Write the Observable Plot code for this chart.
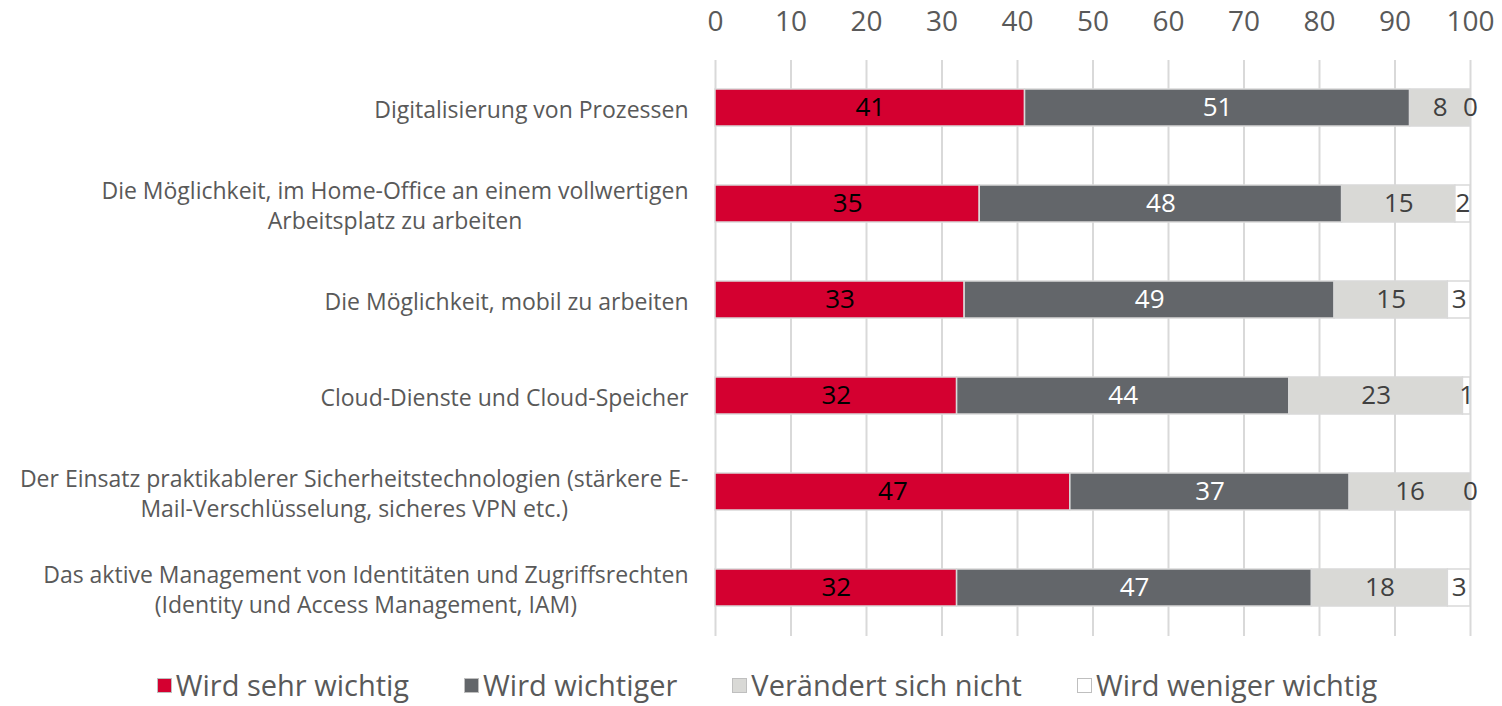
<!DOCTYPE html>
<html><head><meta charset="utf-8">
<script src="https://cdn.jsdelivr.net/npm/d3@7"></script>
<script src="https://cdn.jsdelivr.net/npm/@observablehq/plot@0.6"></script>
<style>
html,body{margin:0;background:#fff;font-family:"Open Sans",sans-serif;}
body{min-height:706px;}
#chart svg{display:block;}
#legend{display:flex;justify-content:center;gap:55px;font-size:29px;line-height:1.4;color:#595959;margin-top:5px;padding-left:32px;white-space:nowrap;}
#legend .item{display:flex;align-items:center;gap:4px;}
#legend .sw{width:15px;height:15px;border:1px solid #bfbfbf;box-sizing:border-box;}
</style></head><body><div id="chart"></div><div id="legend"></div>
<script>
const categories = [
  "Digitalisierung von Prozessen",
  "Die Möglichkeit, im Home-Office an einem vollwertigen\nArbeitsplatz zu arbeiten",
  "Die Möglichkeit, mobil zu arbeiten",
  "Cloud-Dienste und Cloud-Speicher",
  "Der Einsatz praktikablerer Sicherheitstechnologien (stärkere E-\nMail-Verschlüsselung, sicheres VPN etc.)",
  "Das aktive Management von Identitäten und Zugriffsrechten\n(Identity und Access Management, IAM)"
];
const series = ["Wird sehr wichtig", "Wird wichtiger", "Verändert sich nicht", "Wird weniger wichtig"];
const sehrWichtig = [41, 35, 33, 32, 47, 32];
const wichtiger = [51, 48, 49, 44, 37, 47];
const unveraendert = [8, 15, 15, 23, 16, 18];
const wenigerWichtig = [0, 2, 3, 1, 0, 3];
const xTicks = [0, 10, 20, 30, 40, 50, 60, 70, 80, 90, 100];
const colors = ["#d40030", "#63666a", "#d9d9d6", "#ffffff"];
const labelColors = ["#000000", "#ffffff", "#404040", "#404040"];

const seriesValues = [sehrWichtig, wichtiger, unveraendert, wenigerWichtig];
const rows = categories.flatMap((c, i) => series.map((s, j) => ({cat: c, series: s, idx: j, value: seriesValues[j][i]})));

const textMarks = series.map((s, j) => Plot.text(rows, Plot.stackX({
  x: "value", y: "cat", z: "series",
  text: d => d.idx === j ? String(d.value) : "",
  fill: labelColors[j], fontSize: 26
})));

const chart = Plot.plot({
  width: 1502, height: 660,
  marginLeft: 715, marginRight: 32, marginTop: 60, marginBottom: 24,
  style: {fontFamily: "'Open Sans', sans-serif", color: "#595959", background: "#fff"},
  x: {domain: [0, 100], label: null},
  y: {domain: categories, paddingInner: 0.61, paddingOuter: 0.305, label: null},
  color: {domain: series, range: colors},
  marks: [
    Plot.gridX(xTicks, {stroke: "#d9d9d9", strokeOpacity: 1, strokeWidth: 2}),
    Plot.barX(rows, {x: "value", y: "cat", fill: "series", stroke: "#d9d9d9", strokeWidth: 1.5}),
    ...textMarks,
    Plot.axisX(xTicks, {anchor: "top", tickSize: 0, tickPadding: 30, fontSize: 28, fill: "#595959", label: null}),
    Plot.axisY({tickSize: 0, tickPadding: 27, fontSize: 23, fill: "#595959", lineHeight: 1.3, label: null})
  ]
});
document.getElementById("chart").appendChild(chart);

// center multi-line category labels within their right-aligned block
chart.querySelectorAll('g[aria-label="y-axis tick label"] text').forEach(t => {
  if (t.querySelectorAll("tspan").length > 1) {
    const w = t.getBBox().width;
    t.setAttribute("text-anchor", "middle");
    t.setAttribute("transform", (t.getAttribute("transform") || "") + ` translate(${-w / 2},0)`);
  }
});

const legend = document.getElementById("legend");
series.forEach((s, j) => {
  const item = document.createElement("div");
  item.className = "item";
  const sw = document.createElement("span");
  sw.className = "sw";
  sw.style.background = colors[j];
  const label = document.createElement("span");
  label.textContent = s;
  item.appendChild(sw); item.appendChild(label);
  legend.appendChild(item);
});
</script></body></html>
